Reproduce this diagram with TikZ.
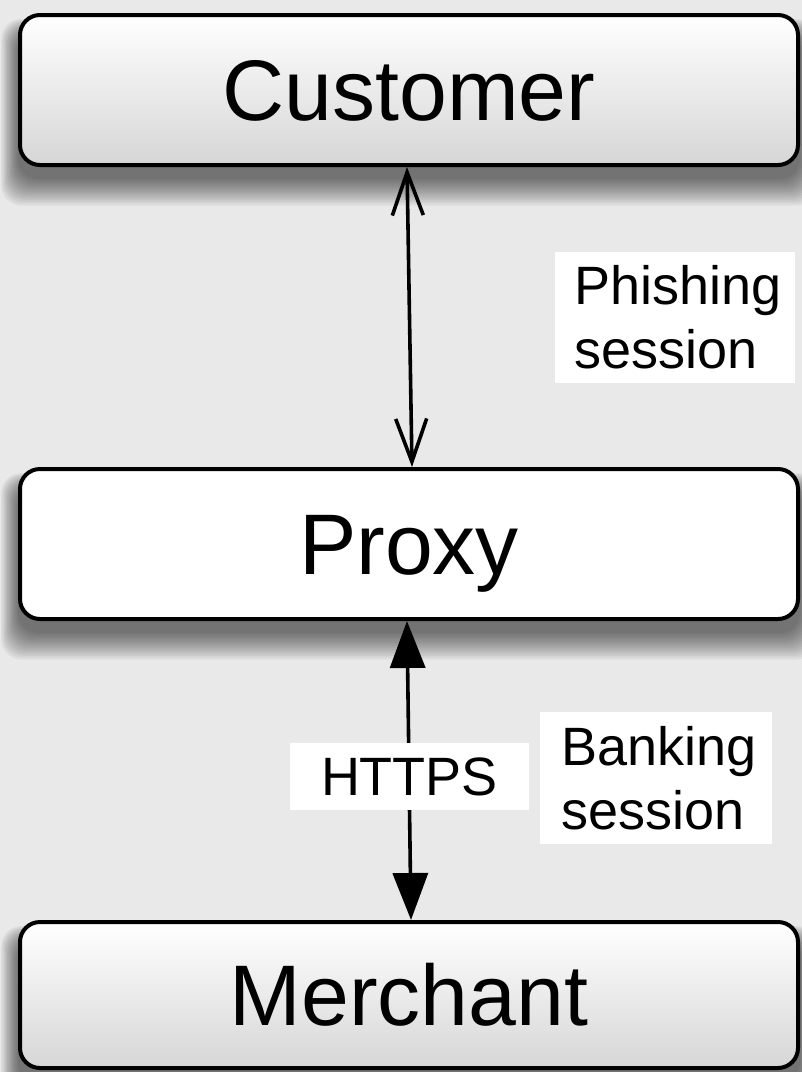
\documentclass[tikz,border=0pt]{standalone}
\usepackage{fontspec}
\setmainfont{Liberation Sans}
\usetikzlibrary{arrows.meta}

\definecolor{paper}{HTML}{E9E9E9}

% soft drop shadow under a node, built from stacked translucent rounded boxes
\newcommand\softshadow[1]{%
  \foreach \s in {0,2,...,28}{%
    \fill[black, opacity=0.045, rounded corners=20pt]
      ([xshift={-0.6pt*\s}, yshift={-20pt+0.5pt*\s}]#1.north west)
      rectangle ([xshift={0.6pt*\s}, yshift={-12pt-0.95pt*\s}]#1.south east);
  }%
}

\begin{document}
\begin{tikzpicture}[x=1pt, y=-1pt,
  party/.style={draw=black, line width=4pt, rounded corners=20pt,
    minimum width=778pt, minimum height=150pt, inner sep=0pt,
    font=\fontsize{86}{100}\selectfont, text height=61.5pt, text depth=0pt},
  glossy/.style={top color=white, bottom color=black!16},
  plain/.style={fill=white},
  tag/.style={fill=white, inner sep=0pt, font=\fontsize{54}{64}\selectfont},
  link/.style={line width=3.6pt},
  openhead/.style={link, {Straight Barb[length=43pt, width=31pt]}-{Straight Barb[length=43pt, width=31pt]}},
  solidhead/.style={link, {Triangle[length=47pt, width=35pt]}-{Triangle[length=47pt, width=35pt]}}
]
  % page and background
  \fill[paper] (0,0) rectangle (802,1072);
  \useasboundingbox (0,0) rectangle (802,1072);

  % outlines used only to place the shadows beneath the boxes
  \path (409,90)  node[party, draw=none] (c0) {}
        (409,544) node[party, draw=none] (p0) {}
        (409,995) node[party, draw=none, minimum height=146pt] (m0) {};
  \softshadow{c0}
  \softshadow{p0}
  \softshadow{m0}

  % the three parties
  \node[party, glossy] (customer) at (409,90)  {Customer};
  \node[party, plain]  (proxy)    at (409,544) {Proxy};
  \node[party, glossy, minimum height=146pt] (merchant) at (409,995) {Merchant};

  % connections
  \draw[openhead]  ([xshift=-2pt]customer.south) -- ([xshift=3pt]proxy.north);
  \draw[solidhead] ([xshift=-2pt]proxy.south) -- ([xshift=2pt]merchant.north);

  % labels
  \node[tag, minimum width=239pt, minimum height=67pt] (https) at (409.5,776.5) {HTTPS};
  \node[tag, anchor=west, inner xsep=19pt, text width=202pt, minimum height=131pt, align=left]
    (phishing) at (555,317.5) {Phishing\\session};
  \node[tag, anchor=west, inner xsep=21pt, text width=190pt, minimum height=132pt, align=left]
    (banking) at (540,778) {Banking\\session};
\end{tikzpicture}
\end{document}
